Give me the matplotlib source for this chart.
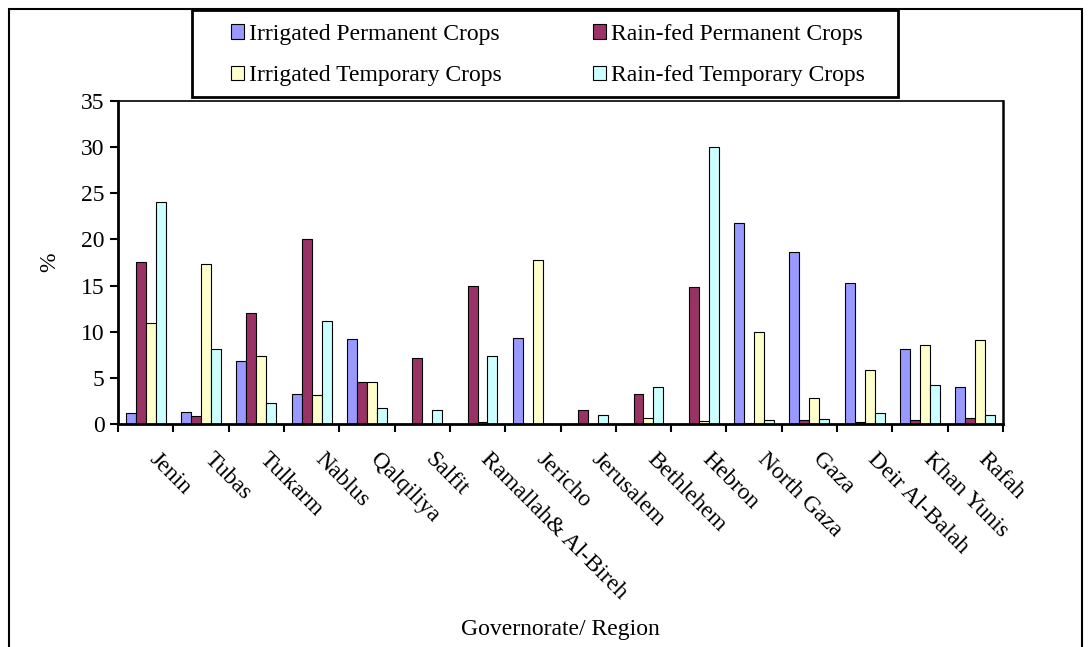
import matplotlib.pyplot as plt
import matplotlib.patches as mpatches
import numpy as np

plt.rcParams['font.family'] = ['Liberation Serif', 'DejaVu Serif']

regions = ["Jenin", "Tubas", "Tulkarm", "Nablus", "Qalqiliya", "Salfit",
           "Ramallah& Al-Bireh", "Jericho", "Jerusalem", "Bethlehem", "Hebron",
           "North Gaza", "Gaza", "Deir Al-Balah", "Khan Yunis", "Rafah"]

irrigated_perm = [1.2, 1.3, 6.8, 3.3, 9.2, 0.0, 0.0, 9.3, 0.0, 0.0, 0.0,
                  21.8, 18.6, 15.3, 8.1, 4.0]
rainfed_perm = [17.6, 0.9, 12.0, 20.1, 4.6, 7.1, 15.0, 0.0, 1.5, 3.3, 14.8,
                0.1, 0.45, 0.2, 0.45, 0.7]
irrigated_temp = [10.9, 17.3, 7.4, 3.1, 4.6, 0.0, 0.25, 17.8, 0.0, 0.7, 0.35,
                  10.0, 2.8, 5.9, 8.6, 9.1]
rainfed_temp = [24.1, 8.1, 2.3, 11.2, 1.7, 1.5, 7.4, 0.0, 1.0, 4.0, 30.0,
                0.45, 0.55, 1.2, 4.2, 1.0]

series = [
    ("Irrigated Permanent Crops", irrigated_perm, "#9999FF"),
    ("Rain-fed Permanent Crops", rainfed_perm, "#993366"),
    ("Irrigated Temporary Crops", irrigated_temp, "#FFFFCC"),
    ("Rain-fed Temporary Crops", rainfed_temp, "#CCFFFF"),
]

W, H = 1090, 647
fs = 17

fig = plt.figure(figsize=(W / 100, H / 100), dpi=100)
ax = fig.add_axes([118 / W, 1 - 424 / H, (1003 - 118) / W, (424 - 101) / H])

x = np.arange(len(regions))
w = 0.18
handles = []
for i, (name, vals, col) in enumerate(series):
    b = ax.bar(x + (i - 1.5) * w, vals, w, color=col, edgecolor="black",
               linewidth=0.8, label=name)
    handles.append(b)

ax.set_xlim(-0.5, len(regions) - 0.5)
ax.set_ylim(0, 35)
ax.set_yticks(range(0, 36, 5))
ax.set_xticks(np.arange(len(regions) + 1) - 0.5)
ax.set_xticklabels([])
ax.tick_params(axis="both", direction="out", length=6, width=1.5, labelsize=fs)
for s in ax.spines.values():
    s.set_linewidth(1.2)
ax.spines["left"].set_linewidth(2)
ax.spines["bottom"].set_linewidth(2)
ax.spines["right"].set_linewidth(1.8)

for xi, lab in zip(x, regions):
    ax.text(xi + 0.25, -2.7, lab, rotation=-45, rotation_mode="anchor",
            ha="left", va="top", fontsize=fs)

ax.set_ylabel("%", fontsize=fs)
ax.yaxis.set_label_coords((60 - 118) / 885, 0.5)
fig.text(560 / W, 1 - 629 / H, "Governorate/ Region", ha="center",
         va="center", fontsize=fs)

# column-wise fill, so order gives rows: IP | RP, IT | RT
order = [0, 2, 1, 3]
leg = fig.legend(handles=[handles[i] for i in order], loc="center", ncol=2,
                 bbox_to_anchor=(548 / W, 1 - 55 / H), fontsize=fs,
                 frameon=False, handlelength=0.55, handleheight=0.55,
                 handletextpad=0.2, columnspacing=3.9, labelspacing=0.85,
                 borderpad=0, borderaxespad=0)
fig.patches.append(mpatches.Rectangle((192 / W, 1 - 97 / H), 706 / W, 87 / H,
                                      transform=fig.transFigure, fill=False,
                                      edgecolor="black", linewidth=2))

fig.patches.append(mpatches.Rectangle((9 / W, -0.05), (1082 - 9) / W,
                                      1.05 - 9 / H, transform=fig.transFigure,
                                      fill=False, edgecolor="black", linewidth=1.5))

fig.savefig("out.png", dpi=100)
